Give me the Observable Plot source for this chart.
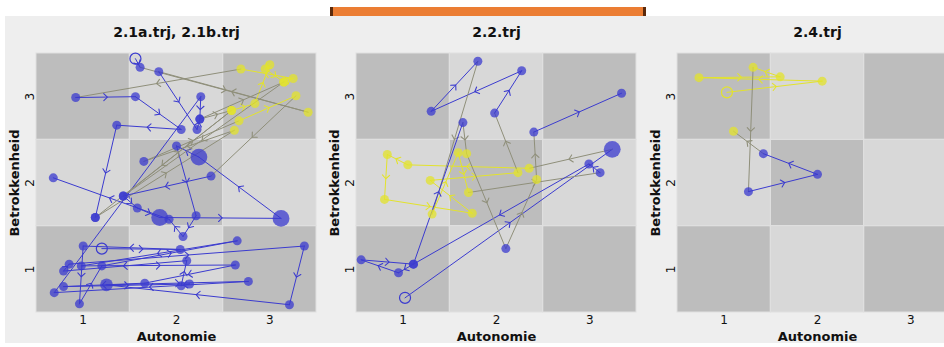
<!DOCTYPE html>
<html><head><meta charset="utf-8">
<script src="https://cdn.jsdelivr.net/npm/d3@7"></script>
<script src="https://cdn.jsdelivr.net/npm/@observablehq/plot@0.6"></script>
<style>
body{margin:0;background:#fff;}
#root{position:relative;width:944px;height:347px;overflow:hidden;background:#fff;font-family:"DejaVu Sans",sans-serif;}
#bg{position:absolute;left:5px;top:16px;width:939px;height:327px;background:#eeeeee;}
#bar{position:absolute;left:330px;top:7px;width:310px;height:9px;background:#eb7d33;border-left:3px solid #5b2a0c;border-right:3px solid #5b2a0c;}
.panel{position:absolute;top:16px;width:315px;height:327px;}
.panel svg{overflow:visible;max-width:none !important;width:315px !important;height:327px !important;}
</style></head><body><div id="root"><div id="bg"></div><div id="bar"></div></div>
<script>
const xTicks = [1, 2, 3];
const yTicks = [1, 2, 3];
const titles = ["2.1a.trj, 2.1b.trj", "2.2.trj", "2.4.trj"];
const xLabel = "Autonomie";
const yLabel = "Betrokkenheid";
// point: [Autonomie, Betrokkenheid, state ("b" blue / "y" yellow), duration]
const traj21a = [
  [1.56,3.44,"b",1.5],[1.61,3.34,"b",1],[3.41,2.82,"y",1],[1.81,3.29,"b",1],
  [2.22,2.62,"b",1],[2.25,2.74,"b",1],[2.59,2.84,"y",1],[2.84,2.92,"y",1],
  [3.00,3.37,"y",1],[2.95,3.32,"y",1],[3.15,3.17,"y",1],[3.25,3.21,"y",1],
  [2.69,3.32,"y",1],[0.92,2.99,"b",1],[1.56,3.00,"b",1],[2.05,2.62,"b",1],
  [1.36,2.67,"b",1],[1.13,1.60,"b",1],[2.62,2.61,"y",1],[1.65,2.25,"b",1],
  [2.67,2.72,"y",1],[3.28,3.01,"y",1],[2.37,2.08,"b",1],[1.43,1.85,"b",1],
  [1.58,1.71,"b",1],[1.82,1.60,"b",3.5],[3.12,1.59,"b",3.5],[2.24,2.30,"b",3.5],
  [2.00,2.43,"b",1],[2.21,1.62,"b",1],[2.07,1.38,"b",1],[1.92,1.58,"b",1],
  [0.68,2.06,"b",1]
];
const traj21b = [
  [1.20,1.24,"b",1.5],[2.04,1.23,"b",1],[1.00,1.27,"b",1],[0.96,0.60,"b",1],
  [1.20,1.04,"b",1],[2.65,1.33,"b",1],[0.98,1.04,"b",1],[2.63,1.05,"b",1],
  [1.66,0.84,"b",1],[0.79,0.80,"b",1],[2.14,0.83,"b",1],[2.05,0.81,"b",1],
  [2.11,1.10,"b",1],[0.79,0.98,"b",1],[0.85,1.06,"b",1],[3.37,1.27,"b",1],
  [3.21,0.59,"b",1],[1.25,0.82,"b",2],[2.77,0.86,"b",1],[0.69,0.73,"b",1],
  [2.26,3.00,"b",1],[2.25,2.74,"b",1],[3.15,3.17,"y",1],[1.43,1.85,"b",1],
  [2.59,2.84,"y",1],[1.13,1.60,"b",1]
];
const traj22 = [
  [1.02,0.67,"b",1.5],[3.24,2.39,"b",3.5],[2.35,2.17,"y",1],[1.05,2.21,"y",1],
  [0.83,2.33,"y",1],[0.80,1.81,"y",1],[1.74,1.65,"y",1],[1.29,2.03,"y",1],
  [2.23,2.12,"y",1],[1.98,2.81,"b",1],[2.27,3.30,"b",1],[1.30,2.83,"b",1],
  [1.80,3.41,"b",1],[1.31,1.64,"y",1],[1.59,2.35,"y",1],[1.70,1.89,"y",1],
  [3.11,2.12,"b",1],[2.99,2.22,"b",1],[1.11,1.06,"b",1],[0.95,0.96,"b",1],
  [0.55,1.11,"b",1],[1.11,1.06,"b",1],[1.64,2.70,"b",1],[1.68,2.34,"y",1],
  [2.10,1.24,"b",1],[2.43,2.04,"y",1],[2.40,2.59,"b",1],[3.34,3.04,"b",1]
];
const traj24 = [
  [1.03,3.05,"y",1.5],[2.05,3.18,"y",1],[0.73,3.22,"y",1],[1.60,3.23,"y",1],
  [1.31,3.34,"y",1],[1.26,1.90,"b",1],[2.00,2.10,"b",1],[1.42,2.34,"b",1],
  [1.10,2.60,"y",1]
];
const panels = [[traj21a, traj21b], [traj22], [traj24]];
const panelLeft = [5, 325, 646];

function panel(trajs, title, left) {
  const pts = [], segs = [];
  trajs.forEach((t, ti) => {
    t.forEach((p, i) => pts.push({x: p[0], y: p[1], k: p[2], s: p[3], start: i === 0}));
    for (let i = 0; i < t.length - 1; i++) {
      const a = t[i], b = t[i + 1], id = ti + "-" + i, col = a[2] === b[2] ? a[2] : "g";
      segs.push({x: a[0], y: a[1], id, col},
                {x: (a[0] + b[0]) / 2, y: (a[1] + b[1]) / 2, id, col},
                {x: b[0], y: b[1], id, col});
    }
  });
  const cells = xTicks.flatMap(cx => yTicks.map(cy => ({cx, cy, dark: (cx + cy) % 2 === 0})));
  const cellOpts = {x1: d => d.cx - 0.5, x2: d => d.cx + 0.5, y1: d => d.cy - 0.5, y2: d => d.cy + 0.5, stroke: "#e0e0e0", strokeWidth: 1};
  const svg = Plot.plot({
    width: 315, height: 327, marginLeft: 31, marginRight: 4, marginTop: 37, marginBottom: 31,
    style: {background: "transparent", fontFamily: "DejaVu Sans, sans-serif", fontSize: "12px", color: "#111", overflow: "visible"},
    x: {domain: [0.5, 3.5]},
    y: {domain: [0.5, 3.5]},
    color: {domain: ["b", "y", "g"], range: ["#3b3bcf", "#e3e32c", "#8f8f7a"]},
    r: {type: "sqrt", domain: [0, 4], range: [0, 9]},
    marks: [
      Plot.rect(cells.filter(d => d.dark), {...cellOpts, fill: "#bdbdbd"}),
      Plot.rect(cells.filter(d => !d.dark), {...cellOpts, fill: "#d8d8d8"}),
      Plot.line(segs, {x: "x", y: "y", z: "id", stroke: "col", strokeWidth: 1, markerMid: "arrow"}),
      Plot.dot(pts.filter(d => !d.start), {x: "x", y: "y", r: "s", fill: "k", fillOpacity: 0.75, stroke: "none"}),
      Plot.dot(pts.filter(d => d.start), {x: "x", y: "y", r: "s", stroke: "k", fill: "none", strokeWidth: 1.2}),
      Plot.axisX({ticks: xTicks, tickFormat: d3.format("d"), tickSize: 0, tickPadding: 3, label: null, fontSize: 12}),
      Plot.axisY({ticks: yTicks, tickFormat: d3.format("d"), tickSize: 0, tickRotate: -90, tickPadding: 3, label: null, fontSize: 12}),
      Plot.text([title], {text: d => d, frameAnchor: "top", lineAnchor: "middle", textAnchor: "middle", dy: -21, fontWeight: "bold", fontSize: 14}),
      Plot.text([xLabel], {text: d => d, frameAnchor: "bottom", lineAnchor: "middle", textAnchor: "middle", dy: 24, fontWeight: "bold", fontSize: 13}),
      Plot.text([yLabel], {text: d => d, frameAnchor: "left", lineAnchor: "middle", textAnchor: "middle", dx: -22, rotate: -90, fontWeight: "bold", fontSize: 13})
    ]
  });
  svg.querySelectorAll("marker").forEach(m => {
    m.setAttribute("markerWidth", 12);
    m.setAttribute("markerHeight", 12);
    m.setAttribute("stroke-width", 0.9);
  });
  const div = document.createElement("div");
  div.className = "panel";
  div.style.left = left + "px";
  div.appendChild(svg);
  document.getElementById("root").appendChild(div);
}
panels.forEach((p, i) => panel(p, titles[i], panelLeft[i]));
</script></body></html>
